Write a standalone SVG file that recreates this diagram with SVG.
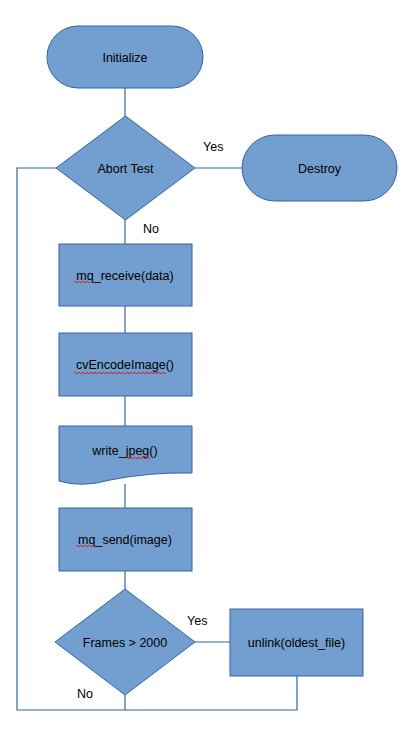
<svg xmlns="http://www.w3.org/2000/svg" width="416" height="732" viewBox="0 0 416 732">
<style>
.s{fill:#729fcf;stroke:#3465a4;stroke-width:1}
.c{fill:none;stroke:#3465a4;stroke-width:1.2}
.t{font-family:"Liberation Sans",Arial,sans-serif;font-size:12.5px;fill:#000;text-anchor:middle}
.l{font-family:"Liberation Sans",Arial,sans-serif;font-size:12.5px;fill:#000}
.w{fill:none;stroke:#e00;stroke-width:0.8}
</style>
<rect width="416" height="732" fill="#fff"/>
<g id="connectors">
<path class="c" d="M125,88 V116"/>
<path class="c" d="M195,168 H242"/>
<path class="c" d="M125,220 V244"/>
<path class="c" d="M125,306 V333"/>
<path class="c" d="M125,396 V426"/>
<path class="c" d="M125,484 V508"/>
<path class="c" d="M125,571 V589"/>
<path class="c" d="M195,642 H230"/>
<path class="c" d="M125,695 V710"/>
<path class="c" d="M297,676 V710 H17 V168 H56"/>
<text class="l" x="203" y="151">Yes</text>
<text class="l" x="143" y="233">No</text>
<text class="l" x="187" y="625">Yes</text>
<text class="l" x="77" y="698">No</text>
</g>
<g id="initialize">
<rect class="s" x="47" y="26" width="156" height="62" rx="31" ry="31"/>
<text class="t" x="125" y="61.5">Initialize</text>
</g>
<g id="abort-test">
<path class="s" d="M125.5,116 L195,168 L125.5,220 L56,168 Z"/>
<text class="t" x="125.5" y="172.5">Abort Test</text>
</g>
<g id="destroy">
<rect class="s" x="242" y="135" width="155" height="66" rx="33" ry="33"/>
<text class="t" x="319.5" y="172.5">Destroy</text>
</g>
<g id="mq-receive">
<rect class="s" x="59" y="244" width="133" height="62"/>
<text class="t" x="125" y="279.5">mq_receive(data)</text>
<path class="w" d="M74,282 q1,-1.5 2,0 t2,0 t2,0 t2,0 t2,0 t2,0 t2,0 t2,0"/>
</g>
<g id="cv-encode">
<rect class="s" x="59" y="333" width="133" height="63"/>
<text class="t" x="125" y="369">cvEncodeImage()</text>
<path class="w" d="M74,373 q1,-1.5 2,0 t2,0 t2,0 t2,0 t2,0 t2,0 t2,0 t2,0 t2,0 t2,0 t2,0 t2,0 t2,0 t2,0 t2,0 t2,0 t2,0 t2,0 t2,0 t2,0 t2,0 t2,0 t2,0 t2,0 t2,0 t2,0 t2,0 t2,0 t2,0 t2,0 t2,0 t2,0 t2,0 t2,0 t2,0 t2,0 t2,0 t2,0 t2,0 t2,0 t2,0 t2,0 t2,0 t2,0 t2,0 t2,0"/>
</g>
<g id="write-jpeg">
<path class="s" d="M59,426 H192 V473 Q150,472 110,480 Q82,488 59,481 Z"/>
<text class="t" x="125" y="455">write_jpeg()</text>
<path class="w" d="M126,458 q1,-1.5 2,0 t2,0 t2,0 t2,0 t2,0 t2,0 t2,0 t2,0 t2,0 t2,0 t2,0 t2,0"/>
</g>
<g id="mq-send">
<rect class="s" x="59" y="508" width="133" height="63"/>
<text class="t" x="125" y="543.5">mq_send(image)</text>
<path class="w" d="M76,546 q1,-1.5 2,0 t2,0 t2,0 t2,0 t2,0 t2,0 t2,0 t2,0 t2,0"/>
</g>
<g id="frames">
<path class="s" d="M125,589 L195,642 L125,695 L55,642 Z"/>
<text class="t" x="125" y="646.5">Frames &gt; 2000</text>
</g>
<g id="unlink">
<rect class="s" x="230" y="609" width="133" height="67"/>
<text class="t" x="296.5" y="646.5">unlink(oldest_file)</text>
</g>
</svg>
